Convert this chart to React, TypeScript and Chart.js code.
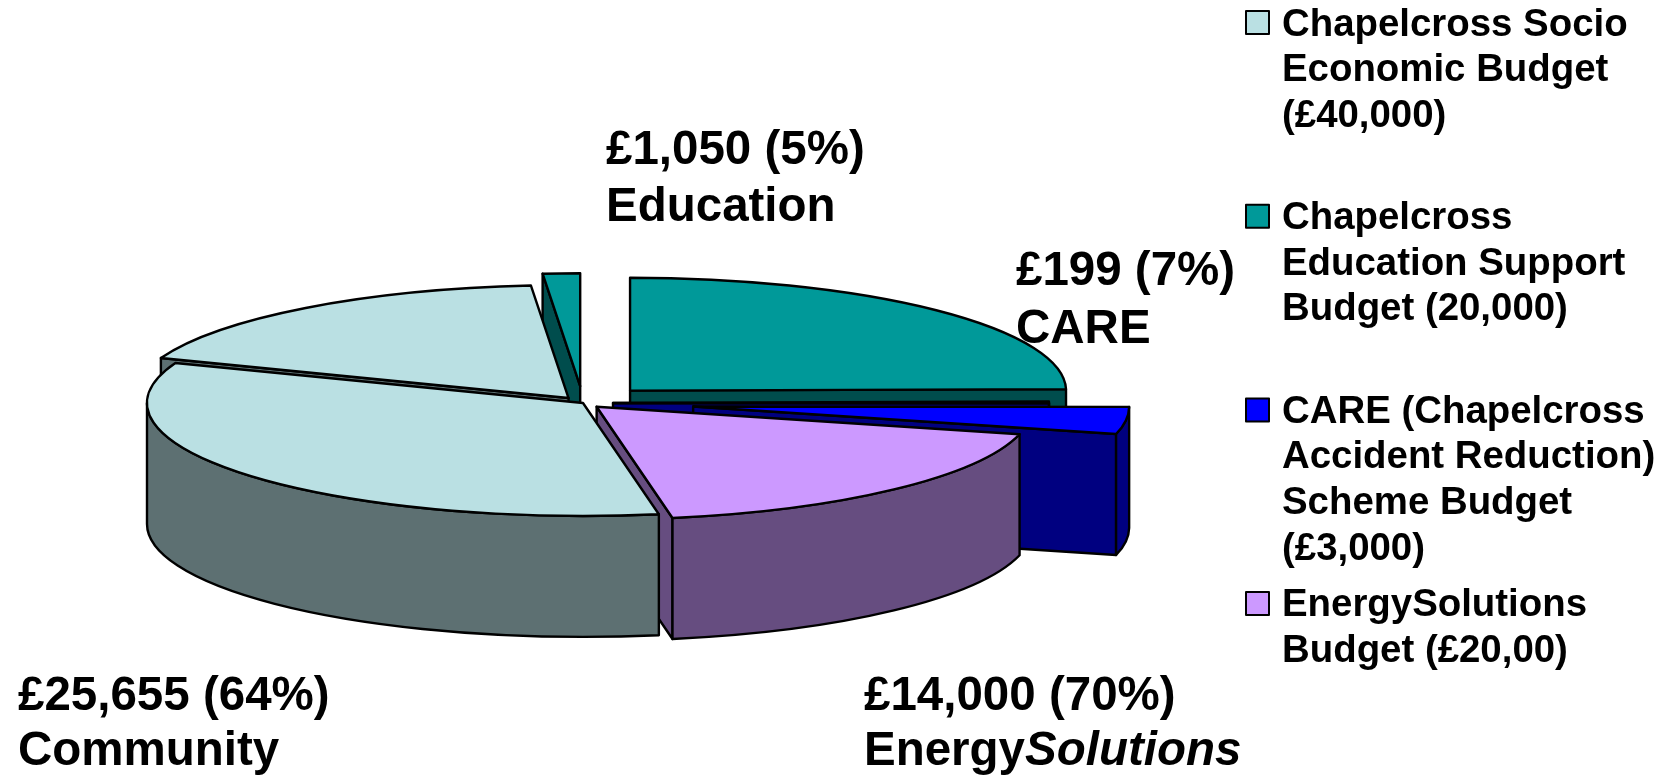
import React, { useEffect, useRef } from "react";
import { Chart, registerables } from "chart.js";

Chart.register(...registerables);

// Slices clockwise from 12 o'clock
const sliceNames = [
  "Education Support remainder",
  "CARE spent",
  "CARE remainder",
  "EnergySolutions spent",
  "Community",
  "Socio Economic remainder",
  "Education spent",
];
const sliceValues = [18950, 199, 2950, 14000, 25655, 13650, 1050];
const sliceColors = ["#009999", "#0000FF", "#0000FF", "#CC99FF", "#BAE0E3", "#BAE0E3", "#009999"];
const sideColors = ["#004D4D", "#000080", "#000080", "#664D80", "#5D7072", "#5D7072", "#004D4D"];
const slicePull = [67, 30, 111, 20, 0, 24, 65];
const paintOrder = [0, 6, 5, 1, 2, 3, 4];

const legendLabels = [
  ["Chapelcross Socio", "Economic Budget", "(£40,000)"],
  ["Chapelcross", "Education Support", "Budget (20,000)"],
  ["CARE (Chapelcross", "Accident Reduction)", "Scheme Budget", "(£3,000)"],
  ["EnergySolutions", "Budget (£20,00)"],
];
const legendColors = ["#BAE0E3", "#009999", "#0000FF", "#CC99FF"];

const calloutLines = [
  { parts: [["£1,050 (5%)", false]], x: 606, y: 164 },
  { parts: [["Education", false]], x: 606, y: 221 },
  { parts: [["£199 (7%)", false]], x: 1016, y: 285 },
  { parts: [["CARE", false]], x: 1016, y: 343 },
  { parts: [["£25,655 (64%)", false]], x: 18, y: 710 },
  { parts: [["Community", false]], x: 18, y: 765 },
  { parts: [["£14,000 (70%)", false]], x: 864, y: 710 },
  { parts: [["Energy", false], ["Solutions", true]], x: 864, y: 765 },
];

const TILT = 0.259;
const DEPTH = 121;
const RADIUS = 436;
const FONT = '"Liberation Sans", Arial, sans-serif';

const pie3d = {
  id: "pie3d",
  beforeDatasetDraw(chart: any) {
    const ctx = chart.ctx;
    const arcs = chart.getDatasetMeta(0).data;
    const stroke = () => {
      ctx.strokeStyle = "#000";
      ctx.lineWidth = 2.4;
      ctx.lineJoin = "round";
      ctx.stroke();
    };
    paintOrder.forEach((i) => {
      const arc = arcs[i];
      const { x, y, startAngle: a, endAngle: b, outerRadius: r } = arc;
      const mid = (a + b) / 2;
      const ox = x + Math.cos(mid) * slicePull[i];
      const oy = y + Math.sin(mid) * slicePull[i] * TILT;
      const px = (t: number) => ox + Math.cos(t) * r;
      const py = (t: number) => oy + Math.sin(t) * r * TILT;

      // cut faces
      [
        [a, a - Math.PI / 2],
        [b, b + Math.PI / 2],
      ].forEach(([t, n]) => {
        if (Math.sin(n) <= 0) return;
        ctx.beginPath();
        ctx.moveTo(ox, oy);
        ctx.lineTo(px(t), py(t));
        ctx.lineTo(px(t), py(t) + DEPTH);
        ctx.lineTo(ox, oy + DEPTH);
        ctx.closePath();
        ctx.fillStyle = sideColors[i];
        ctx.fill();
        stroke();
      });

      // outer wall: front half of the rim
      const norm = (t: number) => {
        let v = t % (2 * Math.PI);
        if (v < -Math.PI / 2) v += 2 * Math.PI;
        return v;
      };
      const na = norm(a);
      const nb = na + (b - a);
      const w0 = Math.max(na, 0);
      const w1 = Math.min(nb, Math.PI);
      if (w1 > w0) {
        ctx.save();
        ctx.beginPath();
        ctx.save();
        ctx.translate(ox, oy);
        ctx.scale(1, TILT);
        ctx.arc(0, 0, r, w0, w1);
        ctx.restore();
        ctx.save();
        ctx.translate(ox, oy + DEPTH);
        ctx.scale(1, TILT);
        ctx.arc(0, 0, r, w1, w0, true);
        ctx.restore();
        ctx.closePath();
        ctx.fillStyle = sideColors[i];
        ctx.fill();
        stroke();
        ctx.restore();
      }

      // top face, painted by the library's own arc element
      ctx.save();
      ctx.translate(ox, oy);
      ctx.scale(1, TILT);
      ctx.translate(-x, -y);
      arc.draw(ctx);
      ctx.restore();

      ctx.beginPath();
      ctx.save();
      ctx.translate(ox, oy);
      ctx.scale(1, TILT);
      ctx.moveTo(0, 0);
      ctx.arc(0, 0, r, a, b);
      ctx.closePath();
      ctx.restore();
      stroke();
    });
    return false;
  },
  afterDraw(chart: any) {
    const ctx = chart.ctx;
    ctx.save();
    ctx.fillStyle = "#000";
    ctx.textBaseline = "alphabetic";
    ctx.textAlign = "left";

    // call-outs
    calloutLines.forEach((line) => {
      let cx = line.x;
      line.parts.forEach(([text, italic]: any) => {
        ctx.font = `${italic ? "italic " : ""}bold 47.5px ${FONT}`;
        ctx.fillText(text, cx, line.y);
        cx += ctx.measureText(text).width;
      });
    });

    // legend
    ctx.font = `bold 38.4px ${FONT}`;
    legendLabels.forEach((lines, e) => {
      const top = 10 + e * 193.7;
      ctx.fillStyle = legendColors[e];
      ctx.fillRect(1246, top + 1, 23, 23);
      ctx.strokeStyle = "#000";
      ctx.lineWidth = 2;
      ctx.strokeRect(1246, top + 1, 23, 23);
      ctx.fillStyle = "#000";
      lines.forEach((l, j) => ctx.fillText(l, 1282, 35.5 + e * 193.5 + j * 45.7));
    });
    ctx.restore();
  },
};

export default function App() {
  const ref = useRef<HTMLCanvasElement | null>(null);
  useEffect(() => {
    const chart = new Chart(ref.current as HTMLCanvasElement, {
      type: "pie",
      data: {
        labels: sliceNames,
        datasets: [
          {
            data: sliceValues,
            backgroundColor: sliceColors,
            borderWidth: 0,
          },
        ],
      },
      options: {
        animation: false,
        responsive: false,
        radius: RADIUS,
        layout: { padding: { left: 0, right: 502, top: 30, bottom: 0 } },
        plugins: { legend: { display: false }, tooltip: { enabled: false } },
      },
      plugins: [pie3d],
    } as any);
    return () => chart.destroy();
  }, []);
  return (
    <div style={{ position: "fixed", left: 0, top: 0, width: 1668, height: 776, background: "#fff" }}>
      <canvas ref={ref} width={1668} height={776} style={{ display: "block" }} />
    </div>
  );
}
